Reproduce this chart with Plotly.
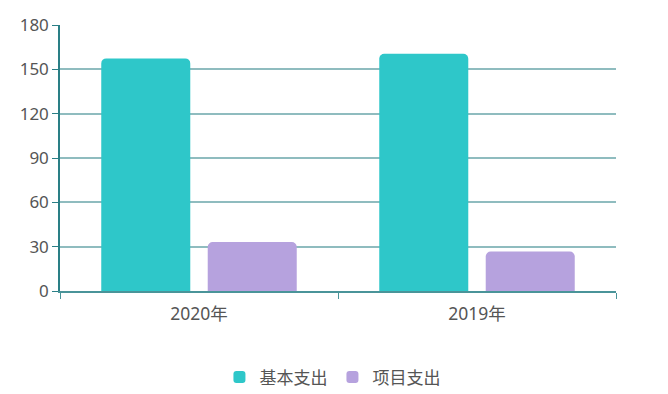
import plotly.graph_objects as go

categories = ["2020年", "2019年"]
basic_spend = [157.4, 160.6]
project_spend = [33.1, 26.7]
series_names = ["基本支出", "项目支出"]
y_ticks = [0, 30, 60, 90, 120, 150, 180]

font_family = "Noto Sans, Noto Sans CJK SC, sans-serif"

fig = go.Figure()
fig.add_trace(go.Bar(x=categories, y=basic_spend, name=series_names[0],
                     marker=dict(color="#2ec7c9", line=dict(width=0), cornerradius=5)))
fig.add_trace(go.Bar(x=categories, y=project_spend, name=series_names[1],
                     marker=dict(color="#b6a2de", line=dict(width=0), cornerradius=5)))

fig.update_layout(
    width=668, height=394,
    margin=dict(l=52, r=60, t=17, b=111, autoexpand=False),
    paper_bgcolor="white", plot_bgcolor="white",
    bargap=0.234, bargroupgap=0.164,
    font=dict(family=font_family, size=17, color="#555555"),
    showlegend=True,
    legend=dict(orientation="h", x=0.49, xanchor="center", y=-0.325, yanchor="middle",
                font=dict(size=17, color="#555555"), itemwidth=30),
    xaxis=dict(
        automargin=False,
        showline=True, linecolor="#4a9499", linewidth=1.5,
        ticks="outside", tickson="boundaries", ticklen=6, tickcolor="#4a9499",
        ticklabelstandoff=6,
        showgrid=False, tickfont=dict(size=17.5, color="#555555"),
    ),
    yaxis=dict(
        automargin=False,
        range=[0, 180], tickvals=y_ticks,
        showline=True, linecolor="#2a7f86", linewidth=1.5,
        ticks="outside", ticklen=6, tickcolor="#2a7f86",
        showgrid=True, gridcolor="#8fbcbf", gridwidth=1.5,
        zeroline=False, tickfont=dict(size=17, color="#555555"),
    ),
)

fig.write_html("out.html")
